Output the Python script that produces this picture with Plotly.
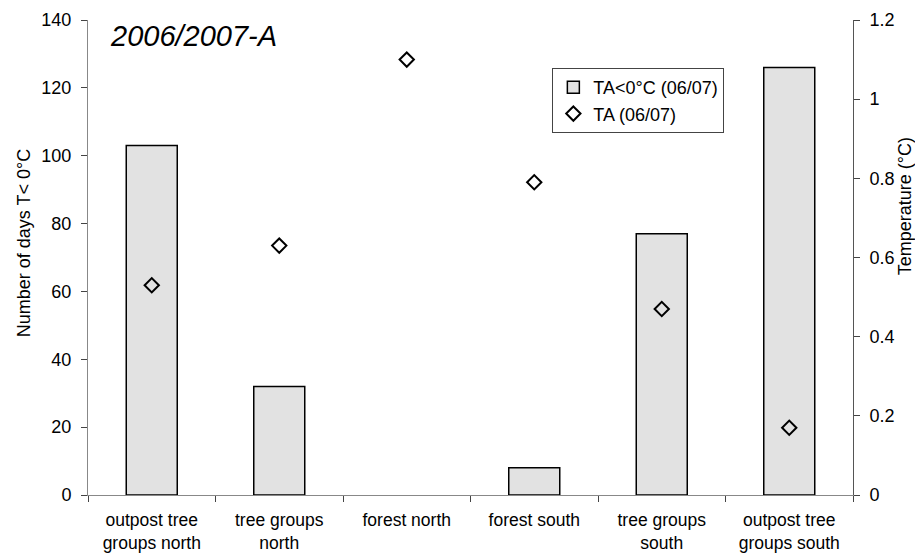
import plotly.graph_objects as go

categories = ["outpost tree<br>groups north", "tree groups<br>north", "forest north",
              "forest south", "tree groups<br>south", "outpost tree<br>groups south"]
days_below_zero = [103, 32, 0, 8, 77, 126]
temperature = [0.53, 0.63, 1.10, 0.79, 0.47, 0.17]

FONT = "Arial, Liberation Sans, sans-serif"

bar_outline = [1.5 if v > 0 else 0 for v in days_below_zero]

fig = go.Figure()
fig.add_trace(go.Bar(
    x=categories, y=days_below_zero, name="TA<0°C (06/07)",
    width=0.4, marker=dict(color="#e2e2e2", line=dict(color="black", width=bar_outline)),
    yaxis="y",
))
fig.add_trace(go.Scatter(
    x=categories, y=temperature, name="TA (06/07)", mode="markers",
    marker=dict(symbol="diamond-open", size=11, color="black", line=dict(width=2, color="black")),
    yaxis="y2",
))

fig.update_layout(
    width=923, height=554,
    margin=dict(l=80, r=78, t=12, b=67),
    paper_bgcolor="white", plot_bgcolor="white",
    font=dict(family=FONT, color="black", size=17),
    showlegend=True,
    legend=dict(x=0.607, y=0.899, xanchor="left", yanchor="top",
                bordercolor="#444", borderwidth=1, bgcolor="white",
                font=dict(size=18), itemwidth=30, tracegroupgap=0),
    xaxis=dict(type="category", showgrid=False, showline=True, linecolor="#888", linewidth=1,
               ticks="outside", tickson="boundaries", ticklen=6, tickcolor="#444",
               tickfont=dict(size=17.5), ticklabelstandoff=9, zeroline=False, automargin=False),
    yaxis=dict(range=[0, 140], dtick=20, showgrid=False, showline=True, linecolor="#888",
               linewidth=1, ticks="outside", ticklen=6, tickcolor="#444", zeroline=False,
               tickfont=dict(size=18), ticklabelstandoff=6, automargin=False),
    yaxis2=dict(range=[0, 1.2], dtick=0.2, overlaying="y", side="right", showgrid=False,
                showline=True, linecolor="#555", linewidth=1, ticks="outside", ticklen=6,
                tickcolor="#444", zeroline=False, tickfont=dict(size=18),
                ticklabelstandoff=6, automargin=False),
    annotations=[
        dict(text="<i>2006/2007-A</i>", x=0.026, y=0.966, xref="paper", yref="paper",
             xanchor="left", yanchor="middle", showarrow=False,
             font=dict(size=29, family=FONT)),
        dict(text="Number of days T< 0°C", x=0, y=0.53, xref="paper", yref="paper",
             xanchor="center", yanchor="middle", xshift=-64, textangle=-90,
             showarrow=False, font=dict(size=18, family=FONT)),
        dict(text="Temperature (°C)", x=1, y=0.608, xref="paper", yref="paper",
             xanchor="center", yanchor="middle", xshift=52, textangle=-90,
             showarrow=False, font=dict(size=18, family=FONT)),
    ],
)

fig.write_html("out.html")
